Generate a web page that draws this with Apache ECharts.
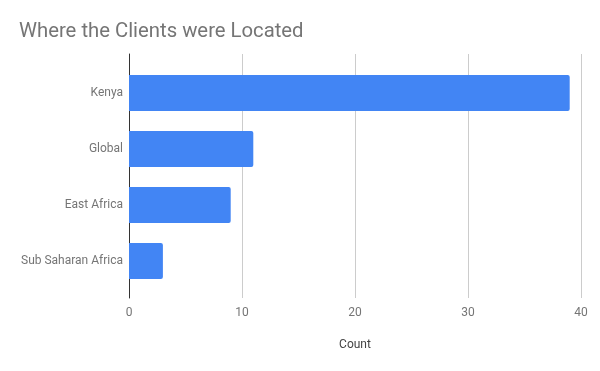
<!DOCTYPE html>
<html>
<head>
<meta charset="utf-8">
<script src="https://cdn.jsdelivr.net/npm/echarts@6/dist/echarts.min.js"></script>
<style>html,body{margin:0;padding:0;background:#fff}#c{width:600px;height:371px}</style>
</head>
<body>
<div id="c"></div>
<script>
const categories = ["Kenya", "Global", "East Africa", "Sub Saharan Africa"];
const counts = [39, 11, 9, 3];
const xTicks = [0, 10, 20, 30, 40];
const titleText = "Where the Clients were Located";
const xName = "Count";

const chart = echarts.init(document.getElementById('c'), null, {renderer: 'canvas'});
const font = 'Roboto, sans-serif';
chart.setOption({
  animation: false,
  title: {
    text: titleText, left: 19, top: 22, padding: 0,
    textStyle: {fontFamily: font, fontSize: 20.3, fontWeight: 'normal', color: '#757575'}
  },
  grid: [
    {left: 129, right: 19, top: 54, bottom: 73},
    {left: 129, right: 19, top: 65, bottom: 82}
  ],
  xAxis: [
    {
      gridIndex: 0, type: 'value', min: xTicks[0], max: xTicks[xTicks.length - 1], interval: 10,
      name: xName, nameLocation: 'middle', nameGap: 41,
      nameTextStyle: {fontFamily: font, fontSize: 12, color: '#444'},
      axisLine: {show: false}, axisTick: {show: false},
      axisLabel: {fontFamily: font, fontSize: 12, color: '#757575', margin: 9},
      splitLine: {show: true, lineStyle: {color: '#cccccc', width: 1}}
    },
    {
      gridIndex: 1, type: 'value', min: xTicks[0], max: xTicks[xTicks.length - 1], interval: 10,
      show: false, splitLine: {show: false}
    }
  ],
  yAxis: [
    {
      gridIndex: 0, type: 'category', data: [''],
      axisLine: {show: true, lineStyle: {color: '#333', width: 1}},
      axisTick: {show: false}, axisLabel: {show: false}, splitLine: {show: false}
    },
    {
      gridIndex: 1, type: 'category', data: categories, inverse: true,
      axisLine: {show: false}, axisTick: {show: false},
      axisLabel: {fontFamily: font, fontSize: 12, color: '#757575', margin: 6, padding: [2, 0, 0, 0]},
      splitLine: {show: false}
    }
  ],
  series: [{
    type: 'bar', xAxisIndex: 1, yAxisIndex: 1, data: counts, barWidth: 36,
    itemStyle: {color: '#4285f4', borderRadius: [0, 2, 2, 0]}
  }]
});
</script>
</body>
</html>
